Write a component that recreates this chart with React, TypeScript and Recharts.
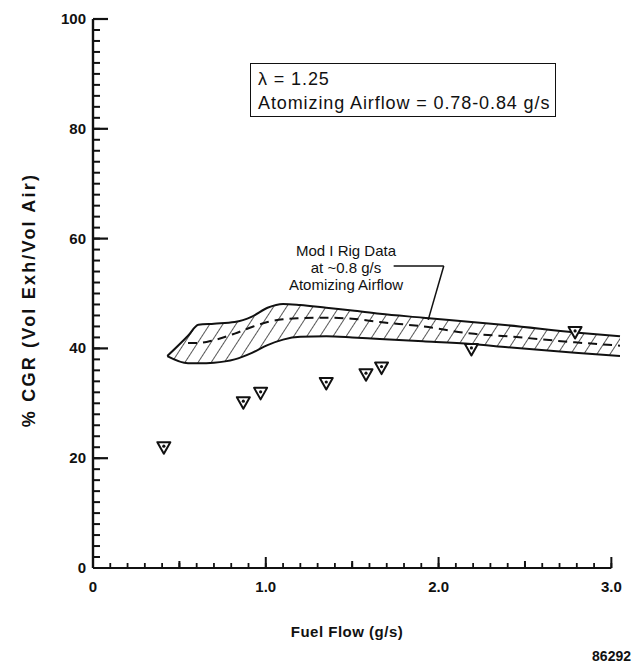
import React from 'react';
import { ComposedChart, Area, Line, Scatter, XAxis, YAxis, ReferenceLine } from 'recharts';

// Hatched band: Mod I rig data at ~0.8 g/s atomizing airflow
const bandFuelFlow = [0.43, 0.55, 0.61, 0.70, 0.82, 0.92, 1.01, 1.10, 1.20, 1.35, 1.50, 1.66, 1.91, 2.19, 2.40, 2.79, 3.05];
const bandLow = [38.6, 37.3, 37.3, 37.4, 38.0, 39.2, 40.6, 41.6, 42.1, 42.2, 42.0, 41.7, 41.3, 40.8, 40.2, 39.2, 38.6];
const bandHigh = [38.6, 42.3, 44.3, 44.5, 44.8, 45.8, 47.4, 48.1, 47.9, 47.4, 46.9, 46.3, 45.6, 44.8, 44.2, 42.9, 42.2];
const bandMid = [null, 41.0, 41.0, 41.5, 42.7, 43.9, 44.8, 45.3, 45.5, 45.6, 45.4, 44.8, 44.0, 42.7, 42.2, 41.1, 40.5];

// Test points (inverted triangles)
const testFuelFlow = [0.41, 0.87, 0.97, 1.35, 1.58, 1.67, 2.19, 2.79];
const testCGR = [22.0, 30.2, 31.9, 33.7, 35.3, 36.5, 39.9, 43.0];

// Axis ticks
const xMajorTicks = [0, 1, 2, 3];
const xTickLabels = ['0', '1.0', '2.0', '3.0'];
const xMinorTicks = Array.from({ length: 31 }, (_, i) => i / 10);
const yMajorTicks = [0, 20, 40, 60, 80, 100];
const yTickLabels = ['0', '20', '40', '60', '80', '100'];
const yMinorTicks = Array.from({ length: 51 }, (_, i) => i * 2);

// Leader line from annotation to band
const leaderX = [1.74, 2.03, 1.94];
const leaderY = [55.0, 55.0, 45.2];

const bandTable = bandFuelFlow.map((x, i) => ({ x, range: [bandLow[i], bandHigh[i]], mid: bandMid[i] }));

const INK = '#111';
const FONT = '"Liberation Sans", Arial, Helvetica, sans-serif';

const X_MINOR_LEN = 5;
const Y_MINOR_LEN = 7;

const near = (a: number, b: number) => Math.abs(a - b) < 1e-6;
const isXMajor = (v: number) => xMajorTicks.some((m) => near(m, v));
const isXHalf = (v: number) => !isXMajor(v) && near(v * 2, Math.round(v * 2));
const isYMajor = (v: number) => yMajorTicks.some((m) => near(m, v));

// longer tick marks (majors / halves) and the test points, drawn in plot coordinates
const markTable = [
  ...xMinorTicks.filter((v) => !near(v, 0) && (isXMajor(v) || isXHalf(v))).map((v) => ({ x: v, y: 0, kind: 'xt', len: isXMajor(v) ? 11 : 7 })),
  ...yMinorTicks.filter((v) => !near(v, 0) && isYMajor(v)).map((v) => ({ x: 0, y: v, kind: 'yt', len: 15 })),
  ...testFuelFlow.map((x, i) => ({ x, y: testCGR[i], kind: 'pt', len: 0 })),
];

const XTick = (props: any) => {
  const { x, y, payload } = props;
  const i = xMajorTicks.findIndex((m) => near(m, payload.value));
  if (i < 0) return <g />;
  return (
    <text x={x} y={y + X_MINOR_LEN + 24} textAnchor="middle" fontFamily={FONT} fontWeight="bold" fontSize={15} fill={INK}>
      {xTickLabels[i]}
    </text>
  );
};

const YTick = (props: any) => {
  const { x, y, payload } = props;
  const i = yMajorTicks.findIndex((m) => near(m, payload.value));
  if (i < 0) return <g />;
  return (
    <text x={x - Y_MINOR_LEN - 7} y={y + 5} textAnchor="end" fontFamily={FONT} fontWeight="bold" fontSize={15} fill={INK}>
      {yTickLabels[i]}
    </text>
  );
};

const Mark = (props: any) => {
  const cx = Number(props.cx);
  const cy = Number(props.cy);
  const d = props.payload || props;
  const kind = d.kind ?? props.kind;
  const len = Number(d.len ?? props.len ?? 0);
  if (kind === 'xt') {
    return <path d={`M${cx},${cy} L${cx},${cy - len}`} stroke={INK} strokeWidth={2} fill="none" />;
  }
  if (kind === 'yt') {
    return <path d={`M${cx},${cy} L${cx + len},${cy}`} stroke={INK} strokeWidth={2.2} fill="none" />;
  }
  return (
    <g>
      <path d={`M${cx - 6.5},${cy - 5} L${cx + 6.5},${cy - 5} L${cx},${cy + 6.5} Z`} fill="#fff" stroke={INK} strokeWidth={2} strokeLinejoin="round" />
      <circle cx={cx} cy={cy - 1} r={1.6} fill={INK} />
    </g>
  );
};

export default function App() {
  return (
    <div style={{ position: 'absolute', left: 0, top: 0, width: 633, height: 670, background: '#fff', fontFamily: FONT, color: INK }}>
      <ComposedChart width={633} height={670} data={bandTable} margin={{ top: 19, right: 13, left: 0, bottom: 72 }}>
        <defs>
          <pattern id="hatch" patternUnits="userSpaceOnUse" width="11" height="11" patternTransform="rotate(33)">
            <line x1="0" y1="0" x2="0" y2="11" stroke={INK} strokeWidth="1.4" />
          </pattern>
        </defs>
        <XAxis
          type="number"
          dataKey="x"
          domain={[0, 3.05]}
          ticks={xMinorTicks}
          interval={0}
          tickSize={-X_MINOR_LEN}
          tickMargin={0}
          tickLine={{ stroke: INK, strokeWidth: 1.8 }}
          axisLine={false}
          tick={<XTick />}
          height={30}
        />
        <YAxis
          type="number"
          domain={[0, 100]}
          ticks={yMinorTicks}
          interval={0}
          tickSize={-Y_MINOR_LEN}
          tickMargin={0}
          tickLine={{ stroke: INK, strokeWidth: 2 }}
          axisLine={{ stroke: INK, strokeWidth: 2.4 }}
          tick={<YTick />}
          width={93}
        />
        <ReferenceLine segment={[{ x: 0, y: 0 }, { x: 3, y: 0 }]} stroke={INK} strokeWidth={2} />
        <Area
          type="monotone"
          dataKey="range"
          stroke={INK}
          strokeWidth={2}
          fill="url(#hatch)"
          fillOpacity={1}
          isAnimationActive={false}
          dot={false}
          activeDot={false}
        />
        <Line
          type="monotone"
          dataKey="mid"
          stroke={INK}
          strokeWidth={2}
          strokeDasharray="9 6"
          dot={false}
          activeDot={false}
          isAnimationActive={false}
        />
        <ReferenceLine segment={[{ x: leaderX[0], y: leaderY[0] }, { x: leaderX[1], y: leaderY[1] }]} stroke={INK} strokeWidth={1.5} />
        <ReferenceLine segment={[{ x: leaderX[1], y: leaderY[1] }, { x: leaderX[2], y: leaderY[2] }]} stroke={INK} strokeWidth={1.5} />
        <Scatter data={markTable} dataKey="y" shape={<Mark />} isAnimationActive={false} />
      </ComposedChart>

      <div
        style={{
          position: 'absolute', left: 250, top: 63, width: 306, height: 54, border: `1.5px solid ${INK}`,
          boxSizing: 'border-box', paddingLeft: 7, paddingTop: 3, fontSize: 18, lineHeight: '24px', letterSpacing: 0.9,
        }}
      >
        <div>λ = 1.25</div>
        <div>Atomizing Airflow = 0.78-0.84 g/s</div>
      </div>

      <div style={{ position: 'absolute', left: 246, top: 242, width: 200, textAlign: 'center', fontSize: 15, lineHeight: '17px' }}>
        <div>Mod I Rig Data</div>
        <div>at ~0.8 g/s</div>
        <div>Atomizing Airflow</div>
      </div>

      <div
        style={{
          position: 'absolute', left: 29, top: 300, transform: 'translate(-50%, -50%) rotate(-90deg)',
          whiteSpace: 'nowrap', fontSize: 18, fontWeight: 'bold', letterSpacing: 2.2,
        }}
      >
        % CGR (Vol Exh/Vol Air)
      </div>

      <div style={{ position: 'absolute', left: 247, width: 200, top: 623, textAlign: 'center', fontSize: 15, fontWeight: 'bold', letterSpacing: 0.5 }}>
        Fuel Flow (g/s)
      </div>
      <div style={{ position: 'absolute', right: 2, top: 648, fontSize: 14, fontWeight: 'bold' }}>86292</div>
    </div>
  );
}
